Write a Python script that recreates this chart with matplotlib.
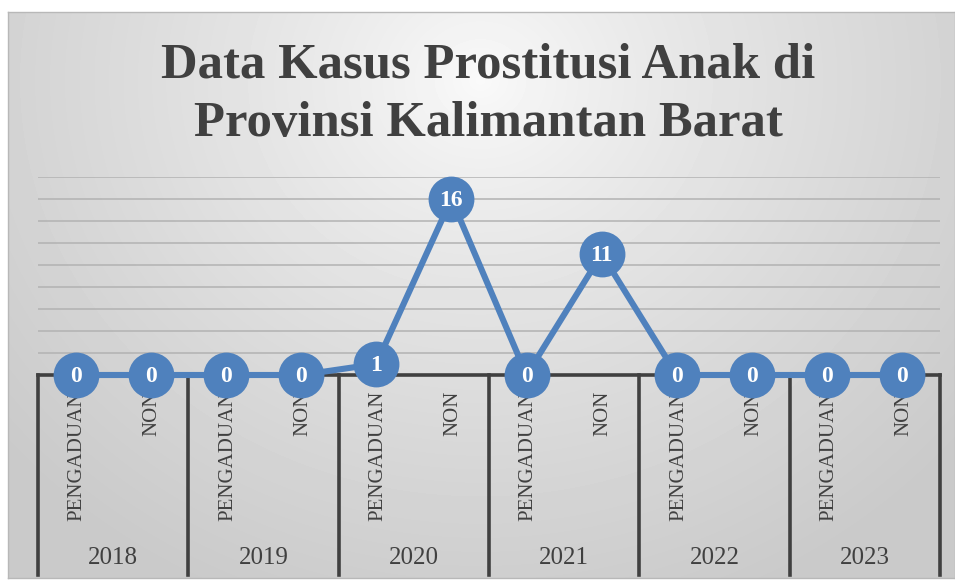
import numpy as np
import matplotlib
matplotlib.use('Agg')
import matplotlib.pyplot as plt

# data kasus per tahun (PENGADUAN / NON)
tahun = ['2018', '2019', '2020', '2021', '2022', '2023']
kategori = ['PENGADUAN', 'NON']
kasus = [0, 0, 0, 0, 1, 16, 0, 11, 0, 0, 0, 0]
judul = 'Data Kasus Prostitusi Anak di\nProvinsi Kalimantan Barat'

W, H = 955, 581
fig = plt.figure(figsize=(W / 100, H / 100), dpi=100)
fig.patch.set_facecolor('white')

# ---- background gradient (radial, terang di atas tengah) ----
bg = fig.add_axes([8 / W, 3 / H, (W - 8) / W, (578 - 12) / H])
px, py = np.meshgrid(np.arange(8, W), np.arange(12, 578))
d = np.sqrt(((px - 480) / 620.0) ** 2 + ((py - 80) / 560.0) ** 2)
shade = (250 - 48 * np.clip(d, 0, 1) ** 0.8) / 255.0
bg.imshow(shade, cmap='gray', vmin=0, vmax=1, aspect='auto',
          extent=[8, W, 578, 12], interpolation='bilinear')
bg.set_xticks([])
bg.set_yticks([])
for s in bg.spines.values():
    s.set_color('#b8b8b8')
    s.set_linewidth(1)

# ---- main plot ----
ax = fig.add_axes([38 / W, 1 - 375 / H, 902 / W, 198 / H])
ax.patch.set_alpha(0)
ax.set_xlim(-0.5, len(kasus) - 0.5)
ax.set_ylim(0, 18)
for s in ax.spines.values():
    s.set_visible(False)
ax.set_xticks([])
ax.set_yticks([])

for v in range(2, 19, 2):
    ax.axhline(v, color='#b2b2b2', lw=1.1, zorder=1)

dark = '#404040'
ax.axhline(0, color=dark, lw=2.6, zorder=2, clip_on=False)

xs = np.arange(len(kasus))
ax.plot(xs, kasus, color='#4f81bd', lw=4.4, marker='o', ms=33,
        markeredgewidth=0, clip_on=False, zorder=4)
for x, v in zip(xs, kasus):
    ax.text(x, v - 0.1, str(v), ha='center', va='center', color='white',
            fontsize=17, fontweight='bold', family='Liberation Serif', zorder=5)

# ---- label kategori bertingkat ----
trans = ax.get_xaxis_transform()
y_of = lambda p: (375 - p) / 198.0
for k in range(len(tahun) + 1):
    ax.plot([2 * k - 0.5, 2 * k - 0.5], [0, y_of(575)], color=dark, lw=2.6,
            transform=trans, clip_on=False, zorder=2)

for i, x in enumerate(xs):
    ax.text(x + 0.02, y_of(391), kategori[i % 2], rotation=90, ha='center', va='top',
            color=dark, fontsize=15, family='Liberation Serif',
            transform=trans, clip_on=False)

for j, t in enumerate(tahun):
    ax.text(2 * j + 0.5, y_of(558), t, ha='center', va='center', color=dark,
            fontsize=18, family='Liberation Serif', transform=trans, clip_on=False)

fig.text(488 / W, 1 - 95 / H, judul, ha='center', va='center', color=dark,
         fontsize=36.5, fontweight='bold', family='Liberation Serif', linespacing=1.35)

fig.savefig('out.png', dpi=100)
